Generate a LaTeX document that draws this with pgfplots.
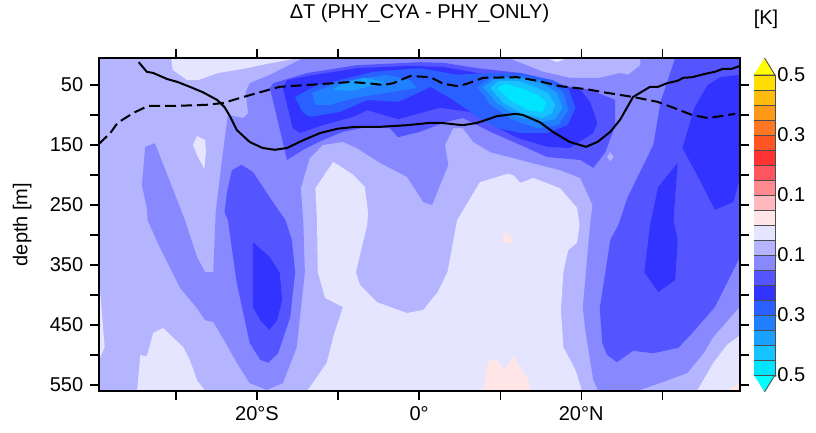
\documentclass[border=0pt]{standalone}
\usepackage{pgfplots}
\pgfplotsset{compat=1.18}
\usepackage{fontspec}
\setmainfont{Liberation Sans}
\definecolor{c1}{HTML}{E5E5FF}
\definecolor{c2}{HTML}{B4B4FF}
\definecolor{c3}{HTML}{8888FF}
\definecolor{c4}{HTML}{5555FF}
\definecolor{c5}{HTML}{3333FF}
\definecolor{c6}{HTML}{2A60FF}
\definecolor{c7}{HTML}{2080FF}
\definecolor{c8}{HTML}{1AA0FF}
\definecolor{c9}{HTML}{14C3FF}
\definecolor{c10}{HTML}{00E5FF}
\definecolor{c11}{HTML}{00FFFF}
\definecolor{p1}{HTML}{FFE5E5}
\definecolor{p2}{HTML}{FFB9BE}
\definecolor{p3}{HTML}{FF8A90}
\definecolor{p4}{HTML}{FF5560}
\definecolor{p5}{HTML}{FF3333}
\definecolor{p6}{HTML}{FF5522}
\definecolor{p7}{HTML}{FF7722}
\definecolor{p8}{HTML}{FF9918}
\definecolor{p9}{HTML}{FFBB10}
\definecolor{p10}{HTML}{FFDD00}
\definecolor{p11}{HTML}{FFFF00}
\begin{document}
\fontsize{20}{24}\selectfont
\begin{tikzpicture}[x=1pt,y=1pt]
\path[use as bounding box] (0,0) rectangle (816,433);
\begin{axis}[
  at={(99pt,42pt)},anchor=south west,scale only axis,width=641pt,height=333pt,
  xmin=-39.5,xmax=39.6,ymin=5,ymax=560,y dir=reverse,
  axis on top,axis line style={line width=1.3pt},
  tick style={line width=1.2pt,black},major tick length=9pt,
  tick pos=both,tick align=outside,
  xtick={-30,-20,-10,0,10,20,30},
  xticklabels={,20°S,,0°,,20°N,},
  ytick={50,100,150,200,250,300,350,400,450,500,550},
  yticklabels={50,,150,,250,,350,,450,,550},
  xticklabel pos=lower,yticklabel pos=left,
  tick label style={font=\fontsize{20}{24}\selectfont},
  title={ΔT (PHY\_CYA - PHY\_ONLY)},
  title style={font=\fontsize{20}{24}\selectfont,at={(axis description cs:0.5,1.117)},anchor=center},
  ylabel={depth [m]},
  every axis y label/.style={at={(axis description cs:-0.12,0.5)},rotate=90,anchor=center,font=\fontsize{20}{24}\selectfont},
]
% background level
\addplot[fill=c2,draw=none] coordinates {(-39.5,5)(39.6,5)(39.6,560)(-39.5,560)};
% lightest blue level
\addplot[fill=c1,draw=none] coordinates {(-30.6,5)(-30.4,25)(-28.6,42)(-27.3,42)(-24.8,30)(-21.2,22)(-19.6,17)(-14.9,5)};
\addplot[fill=c1,draw=none] coordinates {(-27.9,150)(-27.4,135)(-26.4,142)(-26.3,162)(-26.5,190)(-27.4,167)};
\addplot[fill=c1,draw=none] coordinates {(15.8,5)(17.0,12)(18.3,5)};
\addplot[fill=c1,draw=none] coordinates {(-12.8,222)(-10.6,178)(-8.1,200)(-6.7,220)(-6.3,262)(-6.4,283)(-7.8,362)(-7.3,383)(-5.2,412)(-1.5,430)(0.5,425)(2.3,395)(3.5,362)(4.7,275)(7.5,212)(10.9,198)(11.6,200)(12.5,213)(14.1,205)(17.4,222)(19.5,255)(19.8,283)(19.5,313)(18.4,325)(17.8,362)(17.5,425)(17.8,487)(19.3,525)(20.1,560)(-13.8,560)(-11.4,513)(-10.6,470)(-9.4,420)(-11.6,405)(-12.5,362)(-12.6,275)};
\addplot[fill=c1,draw=none] coordinates {(-34.8,560)(-34.4,500)(-33.6,502)(-32.8,463)(-31.6,455)(-29.1,487)(-28.3,508)(-27.4,542)(-26.4,560)};
\addplot[fill=c1,draw=none] coordinates {(-39.5,370)(-38.8,487)(-39.5,508)};
\addplot[fill=c1,draw=none] coordinates {(34.3,560)(36.3,513)(38.0,483)(39.6,467)(39.6,560)};
% level 3
\addplot[fill=c3,draw=none] coordinates {(-14.3,5)(-18.4,33)(-20.9,47)(-21.4,62)(-21.1,97)(-21.7,105)(-23.6,100)(-24.3,172)(-25.1,262)(-25.4,362)(-26.4,362)(-27.4,337)(-28.9,275)(-32.6,147)(-33.8,153)(-34.2,217)(-33.6,255)(-33.5,275)(-32.3,312)(-29.5,388)(-27.4,422)(-26.4,442)(-25.4,445)(-24.2,472)(-22.5,513)(-20.9,547)(-18.8,558)(-16.8,547)(-15.1,487)(-14.1,362)(-14.3,275)(-14.6,222)(-13.5,172)(-11.9,150)(-9.4,145)(-7.7,155)(-4.8,180)(-1.5,203)(0.5,245)(1.6,250)(3.6,183)(3.2,150)(4.2,122)(5.4,122)(6.7,145)(8.8,162)(12.5,175)(17.4,192)(19.9,205)(21.4,250)(21.1,283)(20.2,420)(20.5,458)(21.5,542)(22.1,560)(26.9,560)(30.1,545)(33.1,530)(35.1,497)(36.3,470)(39.4,422)(39.6,417)(39.6,5)(27.3,5)(27.3,17)(25.8,33)(24.8,30)(22.3,38)(18.6,38)(15.3,28)(11.0,5)};
% level 4
\addplot[fill=c4,draw=none] coordinates {(-21.9,183)(-23.1,192)(-23.7,228)(-24.0,262)(-23.6,275)(-22.5,380)(-20.9,480)(-19.6,508)(-18.6,513)(-17.4,497)(-15.9,437)(-15.3,362)(-15.7,308)(-16.5,275)(-18.4,238)(-20.5,195)};
\addplot[fill=c4,draw=none] coordinates {(31.6,5)(29.8,78)(28.9,150)(25.7,238)(24.6,283)(23.6,308)(22.3,422)(22.6,480)(23.2,500)(24.4,512)(26.4,493)(28.9,497)(32.0,488)(33.8,462)(36.5,420)(39.4,342)(39.6,333)(39.6,5)};
\addplot[fill=c4,draw=none] coordinates {(-18.4,55)(-18.0,47)(-13.8,30)(-7.7,17)(0.1,12)(3.0,13)(7.2,22)(12.5,30)(18.6,53)(21.1,58)(24.2,75)(24.2,117)(23.0,162)(21.5,188)(19.9,175)(15.8,170)(12.5,150)(8.8,128)(5.4,105)(3.2,112)(0.1,128)(-2.6,137)(-3.6,122)(-6.4,120)(-9.4,128)(-11.9,142)(-14.3,158)(-16.3,175)};
% level 5
\addplot[fill=c5,draw=none] coordinates {(-16.8,55)(-16.3,42)(-13.8,35)(-7.7,22)(-1.1,18)(3.0,20)(7.2,30)(11.2,35)(15.3,45)(19.9,58)(21.1,78)(22.0,113)(21.5,130)(18.6,155)(15.8,153)(12.1,138)(9.1,117)(6.3,95)(2.6,88)(0.1,97)(-2.6,107)(-6.4,92)(-8.1,103)(-11.9,117)(-14.7,130)(-15.6,122)};
\addplot[fill=c5,draw=none] coordinates {(39.6,33)(37.2,37)(35.6,50)(34.0,87)(32.5,155)(34.3,200)(36.5,258)(38.8,245)(39.6,205)};
\addplot[fill=c5,draw=none] coordinates {(31.9,180)(29.5,220)(28.5,283)(27.8,362)(29.5,395)(31.6,375)(31.9,308)(31.4,275)};
\addplot[fill=c5,draw=none] coordinates {(-20.5,312)(-18.4,337)(-17.2,363)(-16.9,408)(-17.5,442)(-18.5,458)(-19.6,442)(-20.5,420)};
% level 6
\addplot[fill=c6,draw=none] coordinates {(-15.3,70)(-14.4,95)(-13.5,103)(-9.8,95)(-6.4,75)(-2.6,78)(0.1,62)(1.4,53)(4.2,75)(7.2,103)(9.6,122)(12.5,130)(15.8,130)(18.3,117)(19.3,88)(18.4,55)(16.5,42)(12.5,30)(8.4,30)(4.7,33)(0.1,22)(-5.7,28)(-9.8,42)(-12.6,50)};
% level 7
\addplot[fill=c7,draw=none] coordinates {(-13.2,63)(-12.8,83)(-11.0,83)(-8.1,72)(-3.6,62)(-0.2,55)(-1.1,42)(-4.0,33)(-9.8,45)};
\addplot[fill=c7,draw=none] coordinates {(7.2,53)(8.8,83)(11.5,108)(14.6,122)(17.2,117)(18.4,92)(17.8,62)(15.9,45)(12.5,35)(9.0,37)};
% level 8
\addplot[fill=c8,draw=none] coordinates {(-10.6,58)(-8.5,60)(-5.4,50)(-4.2,45)(-6.7,38)(-9.1,45)};
\addplot[fill=c8,draw=none] coordinates {(7.9,53)(9.6,80)(12.2,103)(14.9,112)(16.8,107)(17.7,88)(17.0,63)(15.3,48)(12.5,38)(9.4,40)};
% level 9, 10
\addplot[fill=c9,draw=none] coordinates {(8.8,55)(10.4,80)(12.8,98)(15.2,105)(16.4,97)(16.8,83)(15.9,63)(14.1,52)(12.1,43)(9.8,43)};
\addplot[fill=c10,draw=none] coordinates {(9.6,55)(11.2,75)(13.5,92)(15.2,95)(15.8,80)(14.7,67)(12.5,55)(10.6,48)};
% small spots
\addplot[fill=c2,draw=none] coordinates {(23.6,162)(24.0,170)(23.6,177)(23.2,170)};
\addplot[fill=p1,draw=none] coordinates {(10.4,295)(11.6,303)(11.6,313)(10.4,313)};
\addplot[fill=p1,draw=none] coordinates {(7.9,560)(8.5,510)(9.6,508)(10.6,525)(11.6,502)(13.7,547)(13.7,560)};
\addplot[fill=p1,draw=none] coordinates {(38.0,560)(39.4,547)(39.6,560)};
% solid line
\addplot[black,line width=2pt,line join=round] coordinates {(-34.6,12)(-33.6,28)(-32.8,30)(-31.1,40)(-29.8,45)(-28.3,53)(-26.7,62)(-24.9,75)(-24.0,87)(-23.3,103)(-22.5,125)(-20.9,145)(-19.3,155)(-17.8,158)(-16.3,155)(-14.3,142)(-12.2,130)(-10.1,123)(-8.1,120)(-5.2,120)(-1.5,117)(1.4,113)(2.6,113)(5.4,117)(7.2,113)(9.6,102)(11.9,98)(12.8,100)(14.9,112)(16.5,128)(18.6,145)(20.6,153)(22.0,145)(23.6,128)(24.8,108)(26.4,70)(28.5,53)(29.5,53)(30.6,47)(31.9,43)(32.6,38)(33.7,37)(35.1,32)(36.5,28)(37.5,23)(38.6,23)(39.6,18)};
% dashed line
\addplot[black,line width=2pt,dash pattern=on 11pt off 5pt] coordinates {(-39.5,148)(-38.1,130)(-37.2,113)(-35.3,97)(-33.5,85)(-30.4,85)(-26.2,83)(-24.2,80)(-21.7,70)(-19.6,62)(-17.2,53)(-13.8,50)(-10.6,47)(-8.5,45)(-6.4,47)(-4.4,50)(-3.2,47)(-1.1,35)(1.4,37)(3.0,48)(4.8,52)(5.9,48)(7.9,38)(12.1,37)(14.6,43)(17.4,52)(20.7,57)(22.7,62)(26.4,70)(29.4,78)(31.4,88)(33.7,100)(35.6,105)(37.2,102)(39.0,98)};
\end{axis}
\begin{axis}[
  at={(754pt,41pt)},anchor=south west,scale only axis,width=21pt,height=334pt,
  xmin=0,xmax=1,ymin=-0.5567,ymax=0.5567,clip=false,
  axis x line=none,axis y line=right,y axis line style={draw=none},
  ytick={-0.5,-0.3,-0.1,0.1,0.3,0.5},
  yticklabels={-0.5,-0.3,-0.1,0.1,0.3,0.5},
  major tick length=0pt,
  yticklabel style={anchor=east,xshift=37pt,font=\fontsize{20}{24}\selectfont},
]
\pgfplotsset{every axis plot/.append style={draw=black!70,line width=0.9pt}}
\addplot[fill=c11] coordinates {(0,-0.5)(1,-0.5)(0.5,-0.5567)};
\addplot[fill=c10] coordinates {(0,-0.5)(1,-0.5)(1,-0.45)(0,-0.45)};
\addplot[fill=c9] coordinates {(0,-0.45)(1,-0.45)(1,-0.40)(0,-0.40)};
\addplot[fill=c8] coordinates {(0,-0.40)(1,-0.40)(1,-0.35)(0,-0.35)};
\addplot[fill=c7] coordinates {(0,-0.35)(1,-0.35)(1,-0.30)(0,-0.30)};
\addplot[fill=c6] coordinates {(0,-0.30)(1,-0.30)(1,-0.25)(0,-0.25)};
\addplot[fill=c5] coordinates {(0,-0.25)(1,-0.25)(1,-0.20)(0,-0.20)};
\addplot[fill=c4] coordinates {(0,-0.20)(1,-0.20)(1,-0.15)(0,-0.15)};
\addplot[fill=c3] coordinates {(0,-0.15)(1,-0.15)(1,-0.10)(0,-0.10)};
\addplot[fill=c2] coordinates {(0,-0.10)(1,-0.10)(1,-0.05)(0,-0.05)};
\addplot[fill=c1] coordinates {(0,-0.05)(1,-0.05)(1,0)(0,0)};
\addplot[fill=p1] coordinates {(0,0)(1,0)(1,0.05)(0,0.05)};
\addplot[fill=p2] coordinates {(0,0.05)(1,0.05)(1,0.10)(0,0.10)};
\addplot[fill=p3] coordinates {(0,0.10)(1,0.10)(1,0.15)(0,0.15)};
\addplot[fill=p4] coordinates {(0,0.15)(1,0.15)(1,0.20)(0,0.20)};
\addplot[fill=p5] coordinates {(0,0.20)(1,0.20)(1,0.25)(0,0.25)};
\addplot[fill=p6] coordinates {(0,0.25)(1,0.25)(1,0.30)(0,0.30)};
\addplot[fill=p7] coordinates {(0,0.30)(1,0.30)(1,0.35)(0,0.35)};
\addplot[fill=p8] coordinates {(0,0.35)(1,0.35)(1,0.40)(0,0.40)};
\addplot[fill=p9] coordinates {(0,0.40)(1,0.40)(1,0.45)(0,0.45)};
\addplot[fill=p10] coordinates {(0,0.45)(1,0.45)(1,0.50)(0,0.50)};
\addplot[fill=p11] coordinates {(0,0.50)(1,0.50)(0.5,0.5567)};
\end{axis}
\node[font=\fontsize{20}{24}\selectfont] at (766,414) {[K]};
\end{tikzpicture}
\end{document}
